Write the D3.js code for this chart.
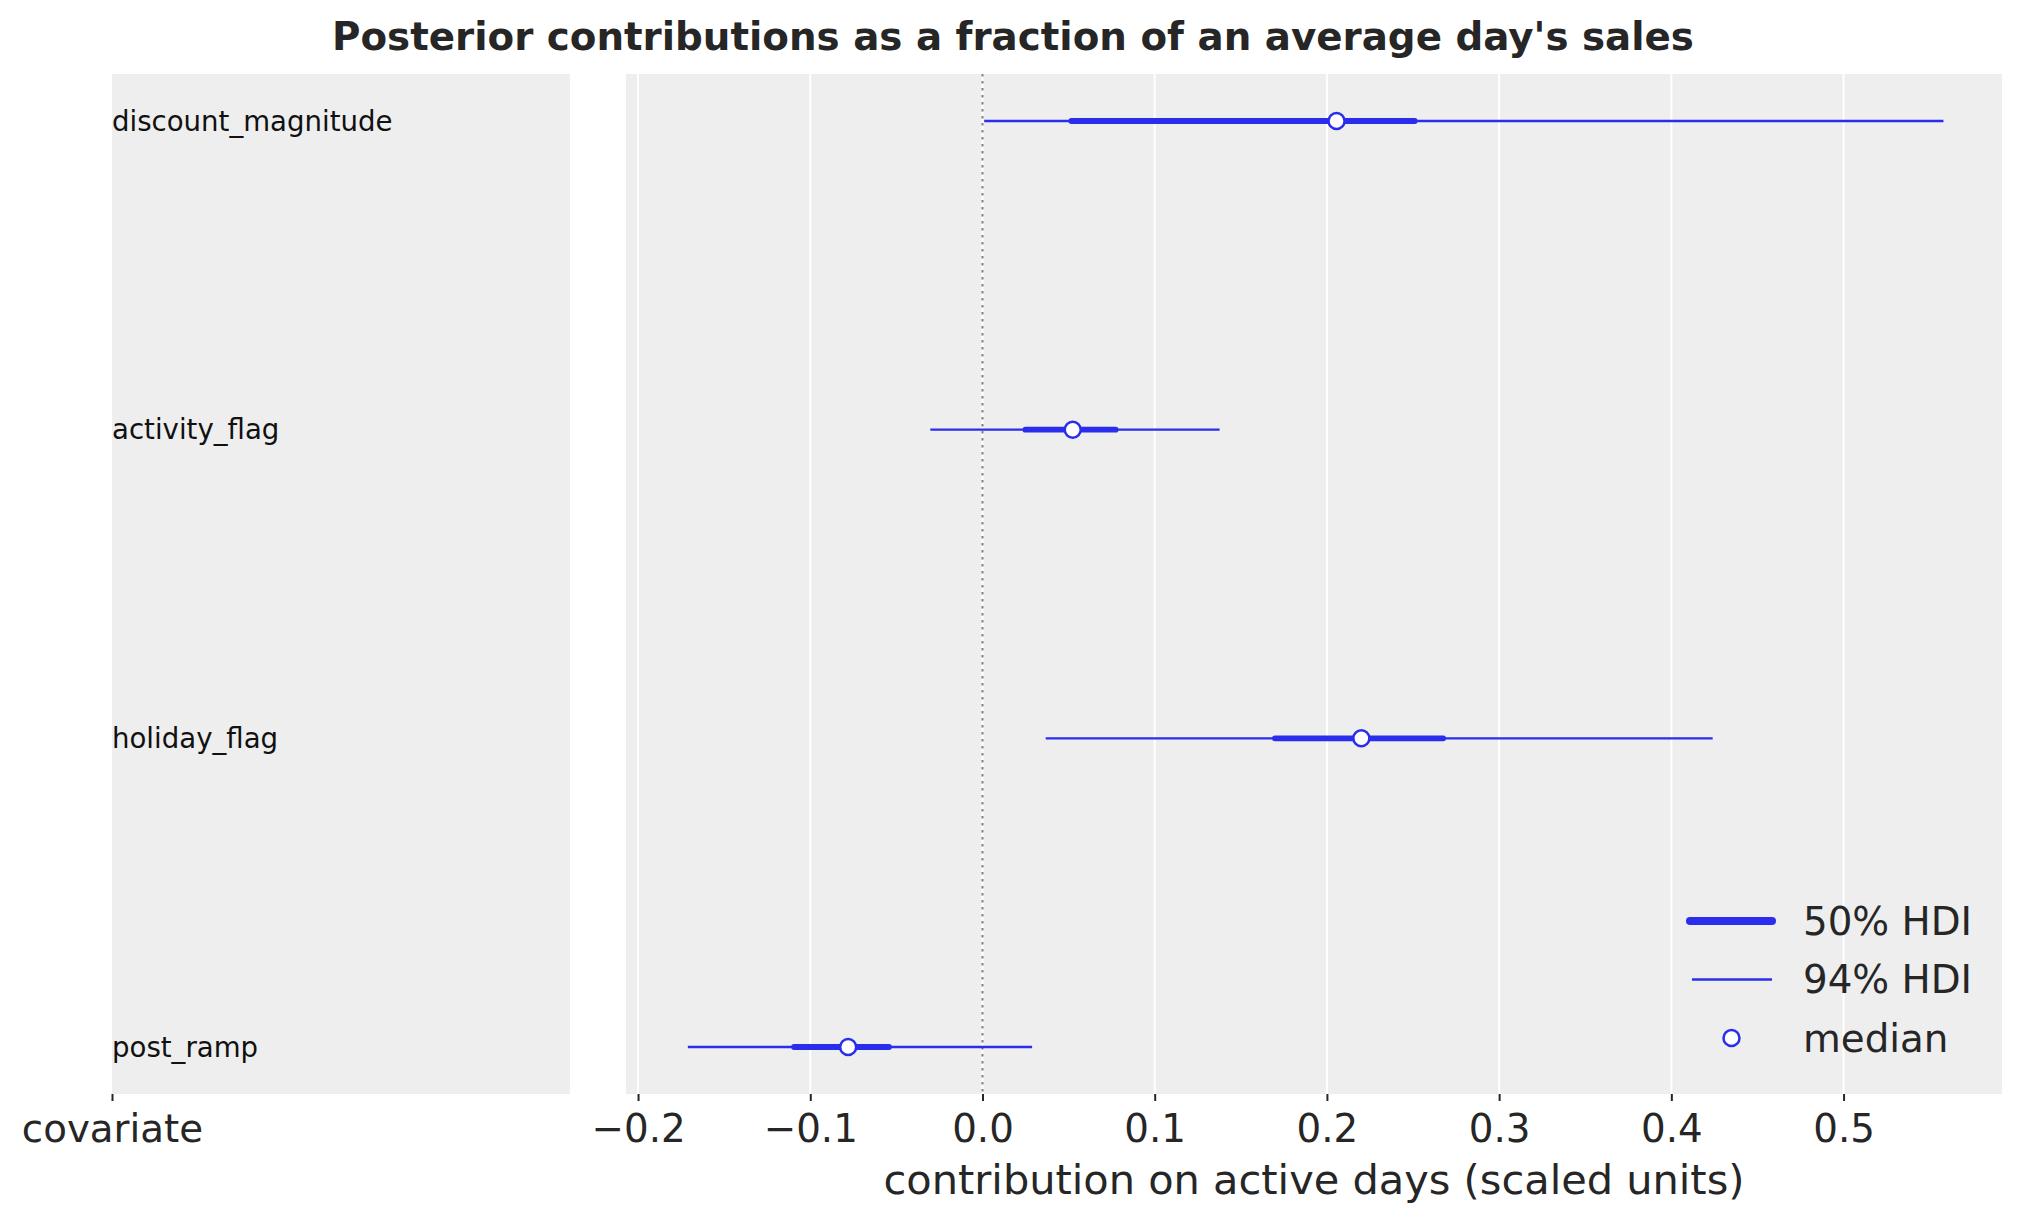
<!DOCTYPE html>
<html>
<head>
<meta charset="utf-8">
<title>Posterior contributions</title>
<script src="https://cdn.jsdelivr.net/npm/d3@7"></script>
<style>
    body { margin: 0; background: white; }
    text { font-family: "DejaVu Sans", sans-serif; }
</style>
</head>
<body>
<div id="chart"></div>
<script>

// covariates, top to bottom
let covariates = ["discount_magnitude", "activity_flag", "holiday_flag", "post_ramp"];

// posterior summaries
let medians   = [0.2056, 0.0524, 0.2200, -0.0780];
let hdi50Low  = [0.0516, 0.0249, 0.1698, -0.1094];
let hdi50High = [0.2510, 0.0773, 0.2675, -0.0543];
let hdi94Low  = [0.0010, -0.0303, 0.0367, -0.1711];
let hdi94High = [0.5580, 0.1377, 0.4240, 0.0288];

let xTicks = [-0.2, -0.1, 0.0, 0.1, 0.2, 0.3, 0.4, 0.5];
let legendLabels = ["50% HDI", "94% HDI", "median"];


class ForestVis {

    constructor(parentElement) {
        this.parentElement = parentElement;
        this.blue = "#2a2eec";
        this.initVis();
    }

    initVis() {
        let vis = this;

        vis.width = 2023;
        vis.height = 1223;

        vis.svg = d3.select("#" + vis.parentElement).append("svg")
            .attr("width", vis.width)
            .attr("height", vis.height);

        // two panels: labels on the left, intervals on the right
        vis.panelTop = 74;
        vis.panelBottom = 1094;
        vis.left = {x0: 112, x1: 570};
        vis.right = {x0: 626, x1: 2002};

        vis.x = d3.scaleLinear()
            .domain([-0.207, 0.592])
            .range([vis.right.x0, vis.right.x1]);

        vis.y = d3.scalePoint()
            .domain(covariates)
            .range([121, 1047]);

        vis.labelX = d3.scaleLinear()
            .domain([0, 1])
            .range([vis.left.x0, vis.left.x1]);

        // title
        vis.svg.append("text")
            .attr("x", 1013)
            .attr("y", 50)
            .attr("text-anchor", "middle")
            .attr("font-size", 38.8)
            .attr("font-weight", "bold")
            .attr("fill", "#262626")
            .text("Posterior contributions as a fraction of an average day's sales");

        // panel backgrounds
        [vis.left, vis.right].forEach(p => {
            vis.svg.append("rect")
                .attr("x", p.x0)
                .attr("y", vis.panelTop)
                .attr("width", p.x1 - p.x0)
                .attr("height", vis.panelBottom - vis.panelTop)
                .attr("fill", "#eeeeee");
        });

        vis.drawAxes();
        vis.drawIntervals();
        vis.drawLegend();
    }

    drawAxes() {
        let vis = this;

        // vertical grid lines in the right panel
        vis.svg.append("g")
            .selectAll("line")
            .data(xTicks)
            .enter().append("line")
            .attr("x1", d => vis.x(d))
            .attr("x2", d => vis.x(d))
            .attr("y1", vis.panelTop)
            .attr("y2", vis.panelBottom)
            .attr("stroke", "white")
            .attr("stroke-width", 2);

        // dotted reference line at zero
        vis.svg.append("line")
            .attr("x1", vis.x(0))
            .attr("x2", vis.x(0))
            .attr("y1", vis.panelTop)
            .attr("y2", vis.panelBottom)
            .attr("stroke", "#808080")
            .attr("stroke-width", 2)
            .attr("stroke-dasharray", "2.5,4.5");

        let xAxis = d3.axisBottom(vis.x)
            .tickValues(xTicks)
            .tickFormat(d3.format(".1f"))
            .tickSize(7)
            .tickPadding(13);

        let labelAxis = d3.axisBottom(vis.labelX)
            .tickValues([0])
            .tickFormat(() => "covariate")
            .tickSize(7)
            .tickPadding(13);

        [[xAxis, "x-axis"], [labelAxis, "label-axis"]].forEach(([axis, cls]) => {
            let g = vis.svg.append("g")
                .attr("class", cls)
                .attr("transform", `translate(0,${vis.panelBottom})`)
                .call(axis);
            g.select(".domain").remove();
            g.selectAll(".tick line")
                .attr("stroke", "#262626")
                .attr("stroke-width", 2);
            g.selectAll(".tick text")
                .attr("font-size", 38.8)
                .attr("font-family", "DejaVu Sans")
                .attr("fill", "#262626");
        });

        // x axis title
        vis.svg.append("text")
            .attr("x", (vis.right.x0 + vis.right.x1) / 2)
            .attr("y", 1194)
            .attr("text-anchor", "middle")
            .attr("font-size", 41.5)
            .attr("fill", "#262626")
            .text("contribution on active days (scaled units)");

        // row labels
        vis.svg.append("g")
            .selectAll("text")
            .data(covariates)
            .enter().append("text")
            .attr("x", vis.left.x0)
            .attr("y", d => vis.y(d))
            .attr("dy", "0.35em")
            .attr("font-size", 27.6)
            .attr("fill", "#111")
            .text(d => d);
    }

    drawIntervals() {
        let vis = this;

        let rows = covariates.map((c, i) => ({
            name: c,
            median: medians[i],
            lo50: hdi50Low[i], hi50: hdi50High[i],
            lo94: hdi94Low[i], hi94: hdi94High[i]
        }));

        let g = vis.svg.append("g").attr("class", "intervals");

        g.selectAll(".hdi94")
            .data(rows)
            .enter().append("line")
            .attr("class", "hdi94")
            .attr("x1", d => vis.x(d.lo94))
            .attr("x2", d => vis.x(d.hi94))
            .attr("y1", d => vis.y(d.name))
            .attr("y2", d => vis.y(d.name))
            .attr("stroke", vis.blue)
            .attr("stroke-width", 2.3);

        g.selectAll(".hdi50")
            .data(rows)
            .enter().append("line")
            .attr("class", "hdi50")
            .attr("x1", d => vis.x(d.lo50))
            .attr("x2", d => vis.x(d.hi50))
            .attr("y1", d => vis.y(d.name))
            .attr("y2", d => vis.y(d.name))
            .attr("stroke", vis.blue)
            .attr("stroke-width", 5.8)
            .attr("stroke-linecap", "round");

        g.selectAll(".median")
            .data(rows)
            .enter().append("circle")
            .attr("class", "median")
            .attr("cx", d => vis.x(d.median))
            .attr("cy", d => vis.y(d.name))
            .attr("r", 8)
            .attr("fill", "white")
            .attr("stroke", vis.blue)
            .attr("stroke-width", 2.5);
    }

    drawLegend() {
        let vis = this;

        let legend = vis.svg.append("g")
            .attr("class", "legend")
            .attr("transform", "translate(1690,921)");

        let rowGap = 58.5;

        legend.selectAll("text")
            .data(legendLabels)
            .enter().append("text")
            .attr("x", 113)
            .attr("y", (d, i) => i * rowGap)
            .attr("dy", "0.36em")
            .attr("font-size", 38.8)
            .attr("fill", "#262626")
            .text(d => d);

        legend.append("line")
            .attr("x1", 0).attr("x2", 82)
            .attr("y1", 0).attr("y2", 0)
            .attr("stroke", vis.blue)
            .attr("stroke-width", 8)
            .attr("stroke-linecap", "round");

        legend.append("line")
            .attr("x1", 2).attr("x2", 82)
            .attr("y1", rowGap).attr("y2", rowGap)
            .attr("stroke", vis.blue)
            .attr("stroke-width", 2.3);

        legend.append("circle")
            .attr("cx", 41.5)
            .attr("cy", 2 * rowGap)
            .attr("r", 8)
            .attr("fill", "white")
            .attr("stroke", vis.blue)
            .attr("stroke-width", 2.5);
    }
}

new ForestVis("chart");

</script>
</body>
</html>
